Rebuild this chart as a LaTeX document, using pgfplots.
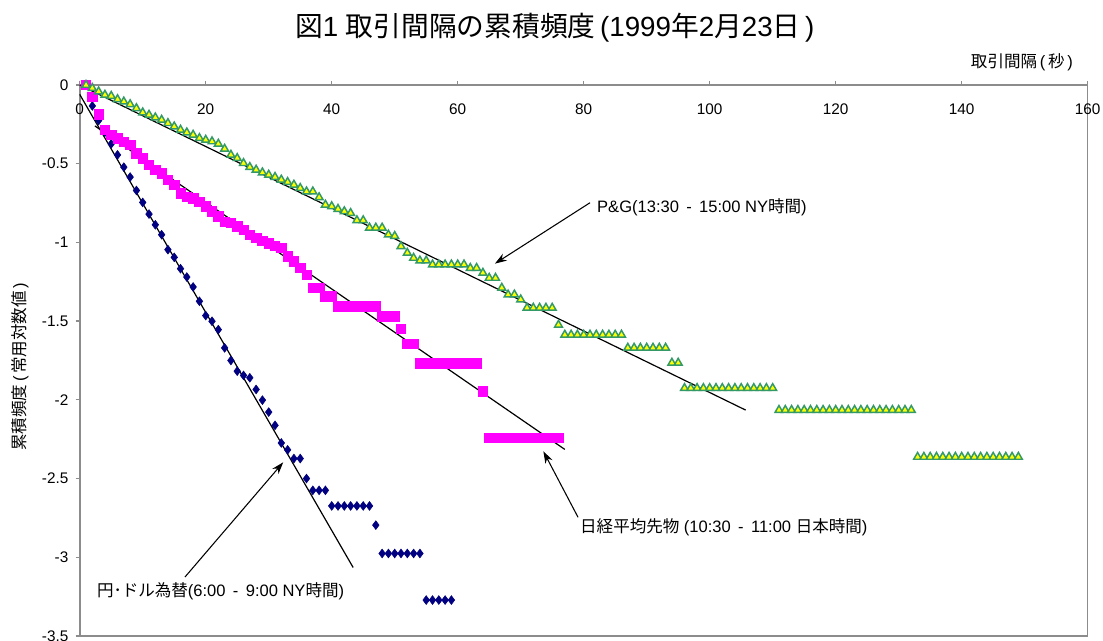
\documentclass[border=0pt]{standalone}
\usepackage{fontspec}
\setmainfont{Liberation Sans}
\newfontfamily\jp{Noto Sans CJK JP}
\usepackage{pgfplots}
\pgfplotsset{compat=1.18}
\usetikzlibrary{arrows.meta}
\definecolor{navyc}{RGB}{0,0,128}
\definecolor{magc}{RGB}{255,0,255}
\definecolor{grnc}{RGB}{51,153,102}
\definecolor{yelc}{RGB}{255,255,0}
\definecolor{axgray}{RGB}{140,140,140}
\begin{document}
\begin{tikzpicture}
\useasboundingbox (-59.8pt,-3.75pt) rectangle (767.5pt,477pt);
\begin{axis}[
  scale only axis, width=756pt, height=413.25pt,
  xmin=0, xmax=160, ymin=-3.5, ymax=0,
  xtick={0,20,...,160}, ytick={-3.5,-3,...,0},
  xtick pos=upper, ytick pos=left, xticklabel pos=upper,
  tick align=outside, major tick length=3pt,
  axis line style={draw=axgray, line width=1.2pt},
  every tick/.style={draw=axgray, line width=1pt},
  clip=false,
  /pgf/number format/assume math mode=true,
  tick label style={font=\fontsize{11.5}{13}\selectfont},
  xticklabel style={anchor=north, yshift=-13.5pt},
  yticklabel style={xshift=-2pt},
]
% Yen / Dollar
\addplot[only marks, mark=diamond*, mark size=3.3pt, color=navyc] coordinates {
(1,0)(2,-0.133)(3,-0.226)(4,-0.30)(5,-0.374)(6,-0.444)(7,-0.522)(8,-0.585)(9,-0.670)(10,-0.746)
(11,-0.82)(12,-0.888)(13,-0.951)(14,-1.046)(15,-1.095)(16,-1.167)(17,-1.22)(18,-1.283)(19,-1.374)(20,-1.465)
(21,-1.501)(22,-1.554)(23,-1.67)(24,-1.75)(25,-1.818)(26,-1.845)(27,-1.86)(28,-1.934)(29,-2.002)(30,-2.078)
(31,-2.162)(32,-2.274)(33,-2.318)(34,-2.373)(35,-2.373)(36,-2.5)(37,-2.575)(38,-2.575)(39,-2.575)
(40,-2.674)(41,-2.674)(42,-2.674)(43,-2.674)(44,-2.674)(45,-2.674)(46,-2.674)(47,-2.796)
(48,-2.976)(49,-2.976)(50,-2.976)(51,-2.976)(52,-2.976)(53,-2.976)(54,-2.976)
(55,-3.272)(56,-3.272)(57,-3.272)(58,-3.272)(59,-3.272)
};
% Nikkei futures
\addplot[only marks, mark=square*, mark size=3.5pt, color=magc] coordinates {
(1,0)(2,-0.074)(3,-0.186)(4,-0.285)(5,-0.317)(6,-0.338)(7,-0.359)(8,-0.38)(9,-0.433)(10,-0.465)
(11,-0.507)(12,-0.539)(13,-0.56)(14,-0.603)(15,-0.634)(16,-0.687)(17,-0.708)(18,-0.719)(19,-0.74)(20,-0.771)
(21,-0.803)(22,-0.835)(23,-0.867)(24,-0.877)(25,-0.898)(26,-0.92)(27,-0.95)(28,-0.97)(29,-0.99)(30,-1.005)
(31,-1.02)(32,-1.036)(33,-1.089)(34,-1.12)(35,-1.163)(36,-1.205)(37,-1.29)(38,-1.29)(39,-1.342)(40,-1.342)
(41,-1.406)(42,-1.406)(43,-1.406)(44,-1.406)(45,-1.406)(46,-1.406)(47,-1.406)
(48,-1.469)(49,-1.469)(50,-1.469)(51,-1.549)(52,-1.644)(53,-1.644)
(54,-1.767)(55,-1.767)(56,-1.767)(57,-1.767)(58,-1.767)(59,-1.767)(60,-1.767)(61,-1.767)(62,-1.767)(63,-1.767)
(64,-1.945)
(65,-2.242)(66,-2.242)(67,-2.242)(68,-2.242)(69,-2.242)(70,-2.242)(71,-2.242)(72,-2.242)(73,-2.242)(74,-2.242)(75,-2.242)(76,-2.242)
};
% P&G
\addplot[only marks, mark=triangle*, mark size=3.4pt, mark options={draw=grnc, fill=yelc, line width=1.1pt}] coordinates {
(1,0)(2,-0.02)(3,-0.042)(4,-0.063)(5,-0.07)(6,-0.091)(7,-0.106)(8,-0.123)(9,-0.148)(10,-0.175)
(11,-0.19)(12,-0.207)(13,-0.222)(14,-0.243)(15,-0.264)(16,-0.285)(17,-0.302)(18,-0.317)(19,-0.338)(20,-0.349)
(21,-0.359)(22,-0.374)(23,-0.406)(24,-0.444)(25,-0.465)(26,-0.497)(27,-0.522)(28,-0.539)(29,-0.556)(30,-0.571)
(31,-0.585)(32,-0.602)(33,-0.617)(34,-0.634)(35,-0.655)(36,-0.677)(37,-0.677)(38,-0.714)(39,-0.761)(40,-0.771)
(41,-0.788)(42,-0.803)(43,-0.814)(44,-0.86)(45,-0.86)(46,-0.907)(47,-0.907)(48,-0.907)(49,-0.951)(50,-0.96)
(51,-1.025)(52,-1.067)(53,-1.099)(54,-1.116)(55,-1.116)(56,-1.141)(57,-1.141)(58,-1.141)(59,-1.141)(60,-1.141)
(61,-1.141)(62,-1.163)(63,-1.163)(64,-1.194)(65,-1.226)(66,-1.226)(67,-1.289)(68,-1.332)(69,-1.332)(70,-1.363)
(71,-1.416)(72,-1.416)(73,-1.416)(74,-1.416)(75,-1.416)(76,-1.524)
(77,-1.587)(78,-1.587)(79,-1.587)(80,-1.587)(81,-1.587)(82,-1.587)(83,-1.587)(84,-1.587)(85,-1.587)(86,-1.587)
(87,-1.67)(88,-1.67)(89,-1.67)(90,-1.67)(91,-1.67)(92,-1.67)(93,-1.67)
(94,-1.765)(95,-1.765)
(96,-1.926)(97,-1.926)(98,-1.926)(99,-1.926)(100,-1.926)(101,-1.926)(102,-1.926)(103,-1.926)(104,-1.926)(105,-1.926)
(106,-1.926)(107,-1.926)(108,-1.926)(109,-1.926)(110,-1.926)
(111,-2.065)(112,-2.065)(113,-2.065)(114,-2.065)(115,-2.065)(116,-2.065)(117,-2.065)(118,-2.065)(119,-2.065)(120,-2.065)
(121,-2.065)(122,-2.065)(123,-2.065)(124,-2.065)(125,-2.065)(126,-2.065)(127,-2.065)(128,-2.065)(129,-2.065)(130,-2.065)
(131,-2.065)(132,-2.065)
(133,-2.363)(134,-2.363)(135,-2.363)(136,-2.363)(137,-2.363)(138,-2.363)(139,-2.363)(140,-2.363)(141,-2.363)(142,-2.363)
(143,-2.363)(144,-2.363)(145,-2.363)(146,-2.363)(147,-2.363)(148,-2.363)(149,-2.363)
};
% fitted lines
\addplot[black, line width=0.9pt] coordinates {(0,-0.06)(43.4,-3.065)};
\addplot[black, line width=0.9pt] coordinates {(2.4,-0.26)(77.0,-2.315)};
\addplot[black, line width=0.9pt] coordinates {(0,0)(105.7,-2.065)};
% annotations
\draw[line width=0.8pt, -{Stealth[length=9pt,width=6pt]}] (axis cs:81.0,-0.748) -- (axis cs:65.9,-1.135);
\node[anchor=west, inner sep=0pt, font=\fontsize{12.4}{14}\selectfont] at (axis cs:82.1,-0.774) {P\&G(13:30 \,-\, 15:00 NY{\jp 時間})};
\draw[line width=0.8pt, -{Stealth[length=9pt,width=6pt]}] (axis cs:79.1,-2.746) -- (axis cs:73.6,-2.327);
\node[anchor=west, inner sep=0pt, font=\fontsize{12.4}{14}\selectfont] at (axis cs:79.4,-2.809) {{\jp 日経平均先物} (10:30 \,-\, 11:00 {\jp 日本時間})};
\draw[line width=0.8pt, -{Stealth[length=9pt,width=6pt]}] (axis cs:16.7,-3.126) -- (axis cs:32.3,-2.397);
\node[anchor=west, inner sep=0pt, font=\fontsize{12.4}{14}\selectfont] at (axis cs:2.7,-3.213) {{\jp 円･ドル為替}(6:00 \,-\, 9:00 NY{\jp 時間})};
% title and labels
\node[font=\fontsize{20.8}{24}\selectfont] at (axis cs:75.4,0.361) {{\jp 図}1 {\jp 取引間隔の累積頻度}\,(1999{\jp 年}2{\jp 月}23{\jp 日}\,)};
\node[anchor=east, inner sep=0pt, font=\fontsize{12.4}{14}\selectfont] at (axis cs:157.7,0.146) {{\jp 取引間隔}\,(\,{\jp 秒}\,)};
\node[rotate=90, inner sep=0pt, font=\fontsize{12.4}{14}\selectfont] at (axis cs:-9.5,-1.79) {{\jp 累積頻度}\,(\,{\jp 常用対数値}\,)};
\end{axis}
\end{tikzpicture}
\end{document}
